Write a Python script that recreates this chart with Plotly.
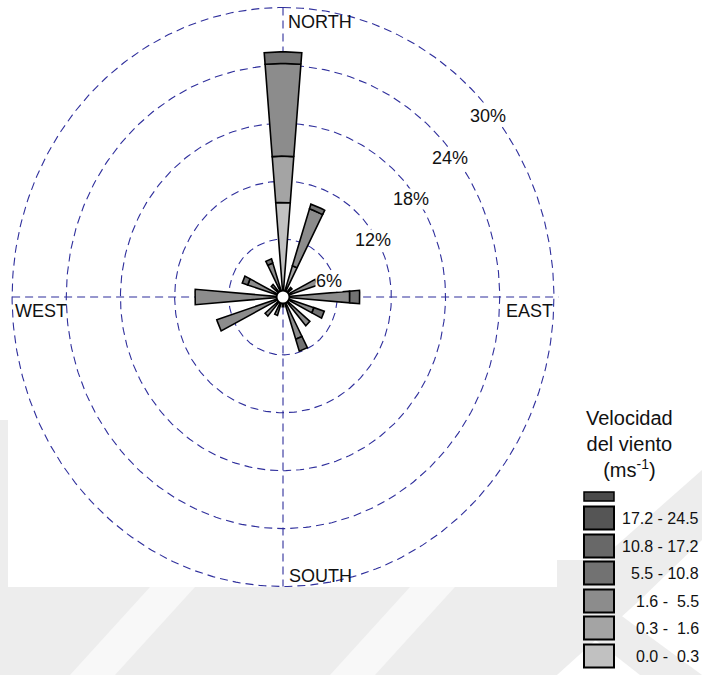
import numpy as np
import plotly.graph_objects as go

# ---------------------------------------------------------------------------
# Wind-rose data: frequency (%) of each speed class for 16 compass sectors
# ---------------------------------------------------------------------------
directions = ["N", "NNE", "NE", "ENE", "E", "ESE", "SE", "SSE",
              "S", "SSW", "SW", "WSW", "W", "WNW", "NW", "NNW"]
bearings = [0.0, 22.5, 45.0, 67.5, 90.0, 112.5, 135.0, 157.5,
            180.0, 202.5, 225.0, 247.5, 270.0, 292.5, 315.0, 337.5]

speed_classes = ["0.0 -  0.3", "0.3 -  1.6", "1.6 -  5.5",
                 "5.5 - 10.8", "10.8 - 17.2", "17.2 - 24.5"]
class_colors = ["#c1c1c1", "#a4a4a4", "#8c8c8c", "#727272", "#686868", "#555555"]

freq_00_03 = [9.8, 0.3, 0.0, 0.0, 0.0, 0.0, 0.0, 0.0,
              0.0, 0.0, 0.0, 0.0, 0.0, 0.0, 0.0, 0.0]
freq_03_16 = [4.8, 3.1, 0.3, 0.6, 0.6, 0.4, 0.4, 0.4,
              0.3, 0.4, 0.4, 0.6, 0.5, 0.4, 0.3, 0.3]
freq_16_55 = [9.6, 6.2, 1.0, 3.4, 6.8, 3.2, 3.5, 4.2,
              0.7, 1.6, 2.2, 7.1, 9.25, 3.7, 1.4, 3.4]
freq_55_108 = [1.2, 0.5, 0.0, 0.0, 1.1, 1.2, 0.0, 1.3,
               0.0, 0.0, 0.0, 0.0, 0.0, 0.64, 0.0, 0.46]
freq_108_172 = [0.0, 0.0, 0.0, 0.0, 0.0, 0.0, 0.0, 0.0,
                0.0, 0.0, 0.0, 0.0, 0.0, 0.0, 0.0, 0.0]
freq_172_245 = [0.0, 0.0, 0.0, 0.0, 0.0, 0.0, 0.0, 0.0,
                0.0, 0.0, 0.0, 0.0, 0.0, 0.0, 0.0, 0.0]

class_freqs = [freq_00_03, freq_03_16, freq_16_55,
               freq_55_108, freq_108_172, freq_172_245]

rings = [6, 12, 18, 24, 30]
ring_labels = ["6%", "12%", "18%", "24%", "30%"]
compass_labels = ["NORTH", "EAST", "SOUTH", "WEST"]
legend_title = "Velocidad<br>del viento<br>(ms<sup>-1</sup>)"

# ---------------------------------------------------------------------------
# Layout geometry (pixels) – the rose is drawn on plain cartesian axes whose
# scales give slightly different pixel sizes per percent in x and y
# ---------------------------------------------------------------------------
W, H = 702, 675
CX, CY = 283.0, 297.0          # centre of the rose in pixels
SX, SY = 9.03, 9.65            # pixels per 1 % in x and y
SECTOR_WIDTH = 9.4             # angular width of each petal (degrees)

GRID = "#2f2f9c"
FONT = "Liberation Sans, Arial, sans-serif"


def px(x, y):
    """pixel position -> paper coordinates"""
    return x / W, 1 - y / H


def wedge(theta_deg, r0, r1, n=8):
    half = SECTOR_WIDTH / 2
    ang = np.radians(np.linspace(theta_deg - half, theta_deg + half, n))
    xo, yo = r1 * np.sin(ang), r1 * np.cos(ang)
    if r0 <= 0:
        xs = [0.0] + list(xo) + [0.0]
        ys = [0.0] + list(yo) + [0.0]
    else:
        xi, yi = r0 * np.sin(ang[::-1]), r0 * np.cos(ang[::-1])
        xs = list(xi) + list(xo) + [xi[0]]
        ys = list(yi) + list(yo) + [yi[0]]
    return xs, ys


fig = go.Figure()

# dashed frequency rings
t = np.linspace(0, 2 * np.pi, 361)
for r in rings:
    fig.add_trace(go.Scatter(x=r * np.sin(t), y=r * np.cos(t), mode="lines",
                             line=dict(color=GRID, width=1.1, dash="8px,5px"),
                             hoverinfo="skip", showlegend=False))
# cross hairs
fig.add_trace(go.Scatter(x=[-30, 30.5], y=[0, 0], mode="lines",
                         line=dict(color=GRID, width=1.1, dash="8px,5px"),
                         hoverinfo="skip", showlegend=False))
fig.add_trace(go.Scatter(x=[0, 0], y=[30, -30], mode="lines",
                         line=dict(color=GRID, width=1.1, dash="8px,5px"),
                         hoverinfo="skip", showlegend=False))

# stacked petals, one trace per speed class
base = np.zeros(len(directions))
for name, color, vals in zip(speed_classes, class_colors, class_freqs):
    xs, ys = [], []
    for i, v in enumerate(vals):
        if v > 0:
            wx, wy = wedge(bearings[i], base[i], base[i] + v)
            xs += wx + [None]
            ys += wy + [None]
    base += np.array(vals)
    if xs:
        fig.add_trace(go.Scatter(x=xs, y=ys, mode="lines", fill="toself",
                                 fillcolor=color, name=name,
                                 line=dict(color="#000000", width=1.6),
                                 hoverinfo="skip", showlegend=False))

shapes = []


def poly_path(points):
    return "M " + " L ".join(f"{px(a, b)[0]:.4f},{px(a, b)[1]:.4f}" for a, b in points) + " Z"


# faint background pattern around the plotting panel
wm = "#ededed"
bands = [
    [(0, 587), (557, 587), (557, 675), (0, 675)],
    [(0, 420), (8, 420), (8, 587), (0, 587)],
    [(557, 560), (600, 560), (702, 470), (702, 540), (640, 600), (557, 675)],
    [(600, 600), (702, 675), (640, 675), (557, 610), (557, 600)],
]
for poly in bands:
    shapes.append(dict(type="path", path=poly_path(poly), xref="paper", yref="paper",
                       fillcolor=wm, line=dict(width=0), layer="below"))
for poly in [[(70, 675), (115, 675), (195, 587), (150, 587)],
             [(330, 675), (375, 675), (455, 587), (410, 587)]]:
    shapes.append(dict(type="path", path=poly_path(poly), xref="paper", yref="paper",
                       fillcolor="#f8f8f8", line=dict(width=0), layer="below"))

# white panel behind the rose
x0, y0 = px(8, 0)
x1, y1 = px(557, 587)
shapes.append(dict(type="rect", xref="paper", yref="paper", x0=x0, y0=y1, x1=x1, y1=y0,
                   fillcolor="white", line=dict(width=0), layer="below"))

# central calm circle
shapes.append(dict(type="circle", xref="x", yref="y", x0=-0.72, x1=0.72, y0=-0.68, y1=0.68,
                   fillcolor="white", line=dict(color="black", width=2), layer="above"))

annotations = []


def label(text, x, y, size, xanchor="left", bg=None):
    ax, ay = px(x, y)
    ann = dict(text=text, x=ax, y=ay, xref="paper", yref="paper",
               xanchor=xanchor, yanchor="middle", showarrow=False,
               font=dict(family=FONT, size=size, color="#111111"))
    if bg:
        ann.update(bgcolor=bg, borderpad=0)
    annotations.append(ann)


# compass labels
label(compass_labels[0], 286, 22, 18)
label(compass_labels[1], 555, 311, 18, xanchor="right")
label(compass_labels[2], 287, 576, 18)
label(compass_labels[3], 13, 311, 18)

# ring labels, masked from the dashed rings
ring_pos = [(329, 281), (373, 240), (411, 199), (450, 158), (488, 116)]
for txt, (lx, ly) in zip(ring_labels, ring_pos):
    label(txt, lx, ly, 18, xanchor="center", bg="white")

# legend title
label(legend_title, 629, 444, 20, xanchor="center")

bx0, bx1 = 584, 614
# partly hidden top swatch
a, b = px(bx0, 492)
c, d = px(bx1, 501)
shapes.append(dict(type="rect", xref="paper", yref="paper", x0=a, y0=d, x1=c, y1=b,
                   fillcolor="#4a4a4a", line=dict(color="black", width=1.5), layer="above"))
row_y = [518, 546, 573, 601, 628, 656]
for k, (name, color) in enumerate(zip(speed_classes[::-1], class_colors[::-1])):
    yc = row_y[k]
    a, b = px(bx0, yc - 11.5)
    c, d = px(bx1, yc + 11.5)
    shapes.append(dict(type="rect", xref="paper", yref="paper", x0=a, y0=d, x1=c, y1=b,
                       fillcolor=color, line=dict(color="black", width=2), layer="above"))
    label(name.replace("  ", "\u00a0 "), 701, yc, 16, xanchor="right")

fig.update_layout(
    width=W, height=H,
    margin=dict(l=0, r=0, t=0, b=0),
    paper_bgcolor="white", plot_bgcolor="rgba(0,0,0,0)",
    xaxis=dict(range=[-CX / SX, (W - CX) / SX], visible=False, fixedrange=True,
               domain=[0, 1]),
    yaxis=dict(range=[-(H - CY) / SY, CY / SY], visible=False, fixedrange=True,
               domain=[0, 1]),
    shapes=shapes,
    annotations=annotations,
    showlegend=False,
)

fig.write_html("out.html")
